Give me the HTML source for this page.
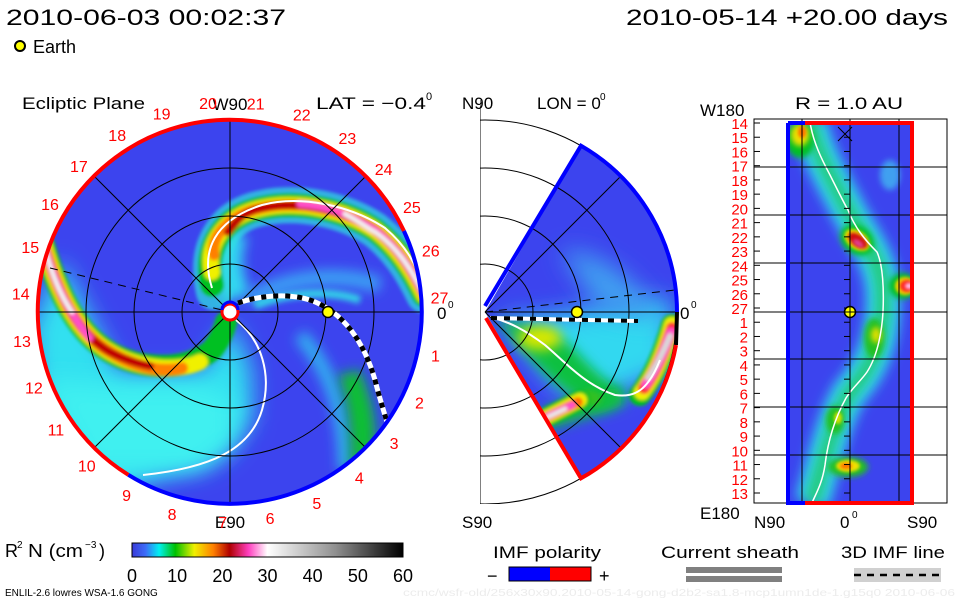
<!DOCTYPE html>
<html><head><meta charset="utf-8"><title>ENLIL</title>
<style>
html,body{margin:0;padding:0;background:#fff;}
svg{display:block;font-family:"Liberation Sans",sans-serif;}
</style></head>
<body>
<svg id="root" width="960" height="600" viewBox="0 0 960 600">
<defs>
  <filter id="b6" filterUnits="userSpaceOnUse" x="0" y="0" width="960" height="600"><feGaussianBlur stdDeviation="6"/></filter>
  <filter id="b3" filterUnits="userSpaceOnUse" x="0" y="0" width="960" height="600"><feGaussianBlur stdDeviation="3"/></filter>
  <filter id="b12" filterUnits="userSpaceOnUse" x="0" y="0" width="960" height="600"><feGaussianBlur stdDeviation="12"/></filter>
  <filter id="b2" filterUnits="userSpaceOnUse" x="0" y="0" width="960" height="600"><feGaussianBlur stdDeviation="1.6"/></filter>
  <clipPath id="disk"><circle cx="230" cy="312" r="192"/></clipPath>
  <clipPath id="fan"><path d="M485,312 L581,145.7 A192,192 0 0 1 677,312 A192,192 0 0 1 581,478.3 Z"/></clipPath>
  <clipPath id="mid"><rect x="480" y="100" width="220" height="404"/></clipPath>
  <clipPath id="rbox"><rect x="786" y="123" width="128" height="380"/></clipPath>
  <linearGradient id="cbar" x1="0" x2="1" y1="0" y2="0">
    <stop offset="0" stop-color="#3a3ad8"/>
    <stop offset="0.05" stop-color="#3c6cf8"/>
    <stop offset="0.1" stop-color="#00f0f0"/>
    <stop offset="0.16" stop-color="#00c000"/>
    <stop offset="0.23" stop-color="#f0f000"/>
    <stop offset="0.3" stop-color="#ff8000"/>
    <stop offset="0.36" stop-color="#b00000"/>
    <stop offset="0.43" stop-color="#ff40c0"/>
    <stop offset="0.5" stop-color="#ffffff"/>
    <stop offset="0.75" stop-color="#909090"/>
    <stop offset="1" stop-color="#000000"/>
  </linearGradient>
</defs>

<!-- header -->
<text x="6" y="25" font-size="22" textLength="280" lengthAdjust="spacingAndGlyphs">2010-06-03 00:02:37</text>
<text x="626" y="25" font-size="22" textLength="322" lengthAdjust="spacingAndGlyphs">2010-05-14 +20.00 days</text>
<circle cx="20" cy="46" r="5" fill="#ffff00" stroke="#000" stroke-width="2"/>
<text x="33" y="53" font-size="18">Earth</text>

<!-- ===== LEFT: Ecliptic plane ===== -->
<g>
<text x="22" y="109" font-size="17" textLength="123" lengthAdjust="spacingAndGlyphs">Ecliptic Plane</text>
<text x="316" y="109" font-size="17" textLength="110" lengthAdjust="spacingAndGlyphs">LAT = −0.4</text>
<text x="426" y="100" font-size="11">0</text>
<g clip-path="url(#disk)">
  <circle cx="230" cy="312" r="192" fill="#3c44ee"/>
  <!-- cyan lower-left -->
  <path d="M30,330 L60,260 L120,372 L200,372 L232,322 L252,370 L252,420 L220,458 L150,480 L100,500 L40,440 Z" fill="#30e0f0" filter="url(#b12)"/>
  <path d="M40,380 L120,385 L200,385 L235,400 L235,440 L200,470 L90,470 Z" fill="#40f0f0" filter="url(#b12)"/>
  <!-- lighter arcs region right -->
  <path d="M250,300 C280,280 330,270 380,285" fill="none" stroke="#3aa0f4" stroke-width="16" filter="url(#b6)"/>
  <path d="M255,305 C290,292 330,290 360,300" fill="none" stroke="#30d0e8" stroke-width="8" filter="url(#b3)"/>
  <path d="M300,335 C330,370 345,410 345,470" fill="none" stroke="#30b0f0" stroke-width="14" filter="url(#b6)"/>
  <path d="M360,370 C372,400 378,425 374,450 L350,475 C352,430 348,400 338,375 Z" fill="#10c030" filter="url(#b6)"/>
  <path d="M238,298 C228,275 226,250 236,232" fill="none" stroke="#30d8f0" stroke-width="26" filter="url(#b6)"/>
  <!-- Arm A -->
  <g filter="url(#b2)" fill="none" stroke-linecap="round">
    <path d="M214,292 C203,245 225,215 262,208 C300,200 345,210 375,230 C398,248 412,270 424,295" stroke="#30e0e0" stroke-width="36" opacity="0.7"/>
    <path d="M212,285 C203,245 225,215 262,208 C300,200 345,210 375,230 C398,248 412,270 424,295" stroke="#00c020" stroke-width="24"/>
    <path d="M212,272 C205,245 225,215 262,208 C300,200 345,210 375,230 C398,248 412,270 424,295" stroke="#f0f000" stroke-width="16"/>
    <path d="M214,255 C210,238 228,215 262,208 C300,200 345,210 375,230 C398,248 412,270 424,295" stroke="#ff8000" stroke-width="11"/>
    <path d="M228,232 C240,215 250,210 262,208 C300,200 345,210 375,230 C398,248 412,270 424,295" stroke="#c00000" stroke-width="8"/>
    <path d="M300,204 C330,206 350,215 375,230 C398,248 412,270 424,295" stroke="#ff50c8" stroke-width="7"/>
    <path d="M345,214 C360,222 370,230 375,232 C398,248 412,270 424,295" stroke="#f0f0f0" stroke-width="5"/>
  </g>
  <!-- Arm B -->
  <g filter="url(#b2)" fill="none" stroke-linecap="round">
    <path d="M44,245 C60,300 80,335 110,352 C140,370 185,372 212,350 C220,340 224,330 226,322" stroke="#00c020" stroke-width="22"/>
    <path d="M44,245 C60,300 80,335 110,352 C140,370 180,372 200,362" stroke="#f0f000" stroke-width="16"/>
    <path d="M44,245 C60,300 80,335 110,352 C140,370 165,372 182,368" stroke="#ff8000" stroke-width="12"/>
    <path d="M44,245 C60,300 80,335 110,352 C125,360 140,364 150,366" stroke="#c00000" stroke-width="8"/>
    <path d="M44,245 C55,285 70,315 90,338" stroke="#ff50c8" stroke-width="7"/>
    <path d="M44,245 C52,275 60,295 72,312" stroke="#f0f0f0" stroke-width="5"/>
  </g>
  <!-- current sheath (white) -->
  <path d="M212,288 C200,250 215,220 262,205 C300,195 350,205 385,228 C405,245 418,265 424,292" fill="none" stroke="#fff" stroke-width="2"/>
  <path d="M236,320 C262,340 272,375 262,410 C250,450 210,468 143,475" fill="none" stroke="#fff" stroke-width="2"/>
  <!-- grid -->
  <g fill="none" stroke="#000" stroke-width="1">
    <circle cx="230" cy="312" r="48"/><circle cx="230" cy="312" r="96"/><circle cx="230" cy="312" r="144"/>
    <line x1="38" y1="312" x2="422" y2="312"/><line x1="230" y1="120" x2="230" y2="504"/>
    <line x1="94" y1="176" x2="366" y2="448"/><line x1="94" y1="448" x2="366" y2="176"/>
    <path d="M50,268 L222,310" stroke-dasharray="8,6"/>
  </g>
  <!-- 3D IMF line -->
  <path d="M238,303 C255,297 285,292 310,300 C345,312 365,345 375,380 C380,400 385,415 387,422" fill="none" stroke="#fff" stroke-width="5"/>
  <path d="M238,303 C255,297 285,292 310,300 C345,312 365,345 375,380 C380,400 385,415 387,422" fill="none" stroke="#000" stroke-width="5" stroke-dasharray="5,7"/>
</g>
<!-- outer rim -->
<path d="M403.9,230.9 A192,192 0 0 1 128.3,474.8" fill="none" stroke="#0000ff" stroke-width="4"/>
<path d="M128.3,474.8 A192,192 0 1 1 403.9,230.9" fill="none" stroke="#ff0000" stroke-width="4"/>
<circle cx="230" cy="312" r="8" fill="#fff" stroke="#ff0000" stroke-width="3"/>
<path d="M222,310 A8,8 0 0 1 238,310" fill="none" stroke="#0000ff" stroke-width="3"/>
<circle cx="328" cy="312" r="5.5" fill="#ffff00" stroke="#000" stroke-width="1.5"/>
<text x="230" y="110" font-size="17" text-anchor="middle">W90</text>
<text x="230" y="528" font-size="17" text-anchor="middle">E90</text>
<text x="437" y="319" font-size="17">0</text>
<text x="448" y="308" font-size="10">0</text>
<g id="daylabels" fill="#ff0000" font-size="16" text-anchor="middle"></g>
</g>

<!-- ===== MIDDLE: meridional plane ===== -->
<g>
<text x="462" y="109" font-size="17">N90</text>
<text x="537" y="109" font-size="17">LON = 0</text>
<text x="600" y="100" font-size="10">0</text>
<text x="462" y="528" font-size="17">S90</text>
<g clip-path="url(#fan)">
  <rect x="480" y="120" width="200" height="380" fill="#3c44ee"/>
  <path d="M500,318 C560,320 620,300 670,300 L670,370 L600,400 L560,390 Z" fill="#30d8f0" filter="url(#b12)"/>
  <path d="M560,250 C600,250 640,280 660,320 L600,310 Z" fill="#40a0f0" filter="url(#b12)"/>
  <path d="M495,318 C520,325 550,330 570,345 C585,360 600,380 630,395 L600,410 C570,400 540,370 510,335 Z" fill="#10c040" filter="url(#b6)"/>
  <ellipse cx="540" cy="338" rx="22" ry="12" fill="#d8e800" filter="url(#b6)"/>
  <path d="M545,420 C575,410 600,405 620,395" fill="none" stroke="#10c040" stroke-width="20" filter="url(#b6)"/>
  <ellipse cx="590" cy="398" rx="12" ry="8" fill="#30c020" filter="url(#b3)"/>
  <g filter="url(#b2)" stroke-linecap="round" fill="none">
    <path d="M545,418 L580,400" stroke="#00c020" stroke-width="20"/>
    <path d="M545,418 L580,400" stroke="#f0f000" stroke-width="14"/>
    <path d="M545,418 L578,402" stroke="#ff7000" stroke-width="10"/>
    <path d="M548,416 L572,405" stroke="#ff50c8" stroke-width="7"/>
    <path d="M548,417 L565,409" stroke="#e8e8e8" stroke-width="5"/>
    <path d="M640,395 C655,375 665,350 672,325" stroke="#00c020" stroke-width="22"/>
    <path d="M642,392 C655,375 665,350 672,325" stroke="#f0f000" stroke-width="16"/>
    <path d="M644,388 C656,372 664,352 672,328" stroke="#ff3030" stroke-width="12"/>
    <path d="M646,384 C656,370 664,352 671,332" stroke="#ff50c8" stroke-width="9"/>
    <path d="M648,378 C657,365 664,350 670,336" stroke="#d8d8d8" stroke-width="6"/>
  </g>
  <path d="M490,317 C510,322 525,330 545,345 C565,362 585,385 615,395 C635,398 648,390 660,360" fill="none" stroke="#fff" stroke-width="2"/>
</g>
<g clip-path="url(#mid)" fill="none" stroke="#000" stroke-width="1">
  <circle cx="485" cy="312" r="48"/><circle cx="485" cy="312" r="96"/><circle cx="485" cy="312" r="144"/><circle cx="485" cy="312" r="192"/>
  <line x1="480" y1="100" x2="480" y2="504"/>
  <line x1="485" y1="312" x2="677" y2="312"/>
  <line x1="485" y1="312" x2="621" y2="176"/><line x1="485" y1="312" x2="621" y2="448"/>
  <path d="M485,312 L675,290" stroke-dasharray="8,6"/>
</g>
<path d="M491,318 L638,321" stroke="#fff" stroke-width="4"/>
<path d="M491,318 L638,321" stroke="#000" stroke-width="4" stroke-dasharray="6,7"/>
<path d="M485,306 L581,145.7 A192,192 0 0 1 677,312" fill="none" stroke="#0000ff" stroke-width="4"/>
<path d="M677,312 L676,345" fill="none" stroke="#000" stroke-width="4"/>
<path d="M676,345 A192,192 0 0 1 581,478.3 L486,318" fill="none" stroke="#ff0000" stroke-width="4"/>
<circle cx="577" cy="312" r="5.5" fill="#ffff00" stroke="#000" stroke-width="1.5"/>
<text x="680" y="319" font-size="17">0</text>
<text x="691" y="308" font-size="10">0</text>
</g>

<!-- ===== RIGHT: R=1AU ===== -->
<g>
<text x="795" y="109" font-size="17" textLength="108" lengthAdjust="spacingAndGlyphs">R = 1.0 AU</text>
<text x="700" y="116" font-size="17">W180</text>
<text x="700" y="519" font-size="17">E180</text>
<text x="754" y="528" font-size="17">N90</text>
<text x="840" y="528" font-size="17">0</text>
<text x="852" y="518" font-size="10">0</text>
<text x="907" y="528" font-size="17">S90</text>
<g clip-path="url(#rbox)">
  <rect x="786" y="123" width="128" height="380" fill="#3c44ee"/>
  <path d="M810,122 C815,150 830,175 847,208 C860,235 880,255 883,290 C885,330 875,365 850,392 C833,420 825,460 812,503" fill="none" stroke="#30d8f0" stroke-width="34" filter="url(#b6)"/>
  <path d="M810,122 C815,150 830,175 847,208 C860,235 880,255 883,290 C885,330 875,365 850,392 C833,420 825,460 812,503" fill="none" stroke="#20c870" stroke-width="14" filter="url(#b6)"/>
  <ellipse cx="890" cy="175" rx="10" ry="15" fill="#40a0f0" filter="url(#b3)"/>
  <ellipse cx="800" cy="140" rx="14" ry="18" fill="#00c020" filter="url(#b3)"/>
  <ellipse cx="800" cy="135" rx="9" ry="11" fill="#f0e000" filter="url(#b3)"/>
  <ellipse cx="802" cy="132" rx="4" ry="6" fill="#ff7000" filter="url(#b2)"/>
  <ellipse cx="857" cy="240" rx="18" ry="14" fill="#00c020" filter="url(#b3)" transform="rotate(35 857 240)"/>
  <ellipse cx="857" cy="240" rx="14" ry="9" fill="#f0e000" filter="url(#b2)" transform="rotate(35 857 240)"/>
  <ellipse cx="858" cy="240" rx="11" ry="6" fill="#d01010" filter="url(#b2)" transform="rotate(35 857 240)"/>
  <ellipse cx="860" cy="242" rx="6" ry="3" fill="#e04090" filter="url(#b2)" transform="rotate(35 857 240)"/>
  <ellipse cx="903" cy="286" rx="14" ry="13" fill="#00c020" filter="url(#b3)"/>
  <ellipse cx="905" cy="286" rx="10" ry="9" fill="#f0d000" filter="url(#b2)"/>
  <ellipse cx="907" cy="286" rx="7" ry="6" fill="#ff2020" filter="url(#b2)"/>
  <ellipse cx="909" cy="286" rx="4" ry="3" fill="#ffc0f0" filter="url(#b2)"/>
  <ellipse cx="874" cy="338" rx="10" ry="20" fill="#20c020" filter="url(#b3)"/>
  <ellipse cx="876" cy="335" rx="5" ry="8" fill="#e0e000" filter="url(#b3)"/>
  <ellipse cx="835" cy="420" rx="9" ry="14" fill="#20c020" filter="url(#b3)"/>
  <ellipse cx="838" cy="418" rx="4" ry="6" fill="#d0e000" filter="url(#b2)"/>
  <ellipse cx="848" cy="467" rx="20" ry="10" fill="#20c020" filter="url(#b3)"/>
  <ellipse cx="848" cy="466" rx="12" ry="6" fill="#f0e000" filter="url(#b2)"/>
  <ellipse cx="846" cy="466" rx="6" ry="3" fill="#ff7000" filter="url(#b2)"/>
  <path d="M810,122 C813,142 822,160 830,175 C840,195 845,205 848,210 C855,228 865,240 877,252 C883,265 884,290 883,312 C882,330 878,355 867,372 C860,382 852,388 846,398 C835,418 828,440 825,465 C822,485 815,495 812,503" fill="none" stroke="#fff" stroke-width="1.5"/>
</g>
<g stroke="#000" stroke-width="1" fill="none">
  <rect x="754" y="119" width="193" height="384"/>
  <line x1="802" y1="119" x2="802" y2="503"/><line x1="850" y1="119" x2="850" y2="503"/><line x1="899" y1="119" x2="899" y2="503"/>
  <line x1="754" y1="167" x2="947" y2="167"/><line x1="754" y1="215" x2="947" y2="215"/><line x1="754" y1="263" x2="947" y2="263"/>
  <line x1="754" y1="312" x2="947" y2="312"/><line x1="754" y1="359" x2="947" y2="359"/><line x1="754" y1="407" x2="947" y2="407"/><line x1="754" y1="455" x2="947" y2="455"/>
  <path d="M838,127 L852,141 M838,141 L852,127"/>
</g>
<g id="shellticks" stroke="#000" stroke-width="1"></g>
<path d="M788,123 L788,503 L805,503 M788,123 L805,123" fill="none" stroke="#0000ff" stroke-width="4"/>
<path d="M805,123 L912,123 L912,503 L805,503" fill="none" stroke="#ff0000" stroke-width="4"/>
<circle cx="850" cy="312" r="5.5" fill="#ffff00" stroke="#000" stroke-width="1.5"/>
<line x1="844" y1="312" x2="856" y2="312" stroke="#000"/><line x1="850" y1="306" x2="850" y2="318" stroke="#000"/>
<g id="shelllabels" fill="#ff0000" font-size="15" text-anchor="end"></g>
</g>

<!-- ===== Colorbar & legends ===== -->
<g>
<text x="5" y="557" font-size="18">R</text>
<text x="17" y="548" font-size="10">2</text>
<text x="28" y="557" font-size="18" textLength="55" lengthAdjust="spacingAndGlyphs">N (cm</text>
<text x="85" y="548" font-size="10">−3</text>
<text x="99" y="557" font-size="18">)</text>
<rect x="132" y="543" width="271" height="14" fill="url(#cbar)" stroke="#000" stroke-width="1"/>
<g id="cbticks" font-size="18" text-anchor="middle"></g>
</g>
<g>
<text x="547" y="558" font-size="17" text-anchor="middle" textLength="108" lengthAdjust="spacingAndGlyphs">IMF polarity</text>
<rect x="509" y="567" width="41" height="14" fill="#0000ff"/>
<rect x="550" y="567" width="41" height="14" fill="#ff0000"/>
<rect x="509" y="567" width="82" height="14" fill="none" stroke="#000" stroke-width="1"/>
<text x="487" y="582" font-size="18">−</text>
<text x="599" y="582" font-size="18">+</text>
</g>
<g>
<text x="730" y="558" font-size="17" text-anchor="middle" textLength="138" lengthAdjust="spacingAndGlyphs">Current sheath</text>
<rect x="686" y="567" width="96" height="6" fill="#808080"/>
<rect x="686" y="576" width="96" height="6" fill="#808080"/>
</g>
<g>
<text x="893" y="558" font-size="17" text-anchor="middle" textLength="104" lengthAdjust="spacingAndGlyphs">3D IMF line</text>
<rect x="854" y="568" width="87" height="14" fill="#d0d0d0"/>
<line x1="854" y1="575" x2="941" y2="575" stroke="#000" stroke-width="2.5" stroke-dasharray="7,6"/>
</g>
<text x="5" y="596" font-size="10">ENLIL-2.6 lowres WSA-1.6 GONG</text>
<text x="403" y="596" font-size="10" fill="#ececec" textLength="552" lengthAdjust="spacingAndGlyphs">ccmc/wsfr-old/256x30x90.2010-05-14-gong-d2b2-sa1.8-mcp1umn1de-1.g15q0   2010-06-06</text>
</svg>
<script>
const NS="http://www.w3.org/2000/svg";
const cbValues=[0,10,20,30,40,50,60];
const dayLabels=["19","20","21","22","23","24","25","26","27","1","2","3","4","5","6","7","8","9","10","11","12","13","14","15","16","17","18"];
const dayAngles=[109,96,83,70,56,43,30,17,4,-12,-25.5,-38.6,-52,-65.6,-79,-92,-106,-119.5,-133,-146,-159,-172,175,162,149,136,122.5];
const shellLabels=["14","15","16","17","18","19","20","21","22","23","24","25","26","27","1","2","3","4","5","6","7","8","9","10","11","12","13"];
// colorbar
const cb=document.getElementById('cbticks');
const cbX=v=>132+(v-0)/(60-0)*271;
cbValues.forEach(v=>{
  const t=document.createElementNS(NS,'text');
  t.setAttribute('x',cbX(v));t.setAttribute('y',582);t.textContent=v;
  
  
  cb.appendChild(t);
});
// day labels around disk
const dl=document.getElementById('daylabels');
dayLabels.forEach((s,i)=>{
  const a=dayAngles[i]*Math.PI/180, r=210;
  const t=document.createElementNS(NS,'text');
  t.setAttribute('x',(230+r*Math.cos(a)).toFixed(1));
  t.setAttribute('y',(312-r*Math.sin(a)+6).toFixed(1));
  t.textContent=s;
  
  
  dl.appendChild(t);
});
// shell labels
const sl=document.getElementById('shelllabels'), st=document.getElementById('shellticks');
const sy=i=>123+i*(493-123)/(shellLabels.length-1);
shellLabels.forEach((s,i)=>{
  const t=document.createElementNS(NS,'text');
  t.setAttribute('x',748);t.setAttribute('y',(sy(i)+6).toFixed(1));t.textContent=s;
  
  
  sl.appendChild(t);
  const l=document.createElementNS(NS,'line');
  l.setAttribute('x1',754);l.setAttribute('x2',760);l.setAttribute('y1',sy(i));l.setAttribute('y2',sy(i));
  st.appendChild(l);
  const l2=document.createElementNS(NS,'line');
  l2.setAttribute('x1',844);l2.setAttribute('x2',850);l2.setAttribute('y1',sy(i));l2.setAttribute('y2',sy(i));
  st.appendChild(l2);
});
</script>
</body></html>
